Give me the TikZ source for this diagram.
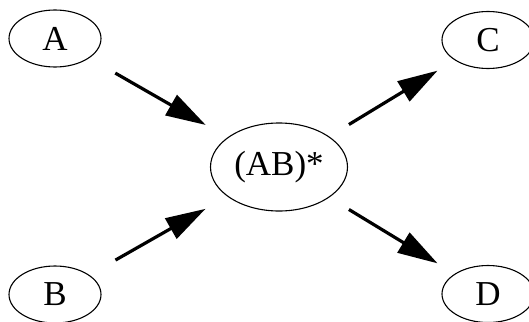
\documentclass[tikz,border=0pt]{standalone}
\usepackage{fontspec}
\setmainfont{Liberation Serif}
\usetikzlibrary{shapes.geometric,arrows.meta}

\begin{document}
\begin{tikzpicture}[x=1pt,y=-1pt,
        state/.style={draw,ellipse,line width=1.1pt,inner sep=0pt,minimum width=92pt,minimum height=57pt,font=\fontsize{35}{42}\selectfont},
        flow/.style={line width=3.2pt,-{Triangle[length=40pt,width=23pt]}}]
        \useasboundingbox (0,0) rectangle (529,321);
        \node[state] (a) at (55,38.5) {A};
        \node[state] (b) at (55,294.5) {B};
        \node[state,minimum width=137pt,minimum height=88pt] (ab) at (279,167) {(AB)*};
        \node[state] (c) at (488,40) {C};
        \node[state] (d) at (488,294) {D};
        \draw[flow,shorten <=30pt,shorten >=25pt] (a) -- (ab);
        \draw[flow,shorten <=30pt,shorten >=25pt] (b) -- (ab);
        \draw[flow,shorten <=23pt,shorten >=20pt] (ab) -- (c);
        \draw[flow,shorten <=23pt,shorten >=20pt] (ab) -- (d);
    \end{tikzpicture}
\end{document}
